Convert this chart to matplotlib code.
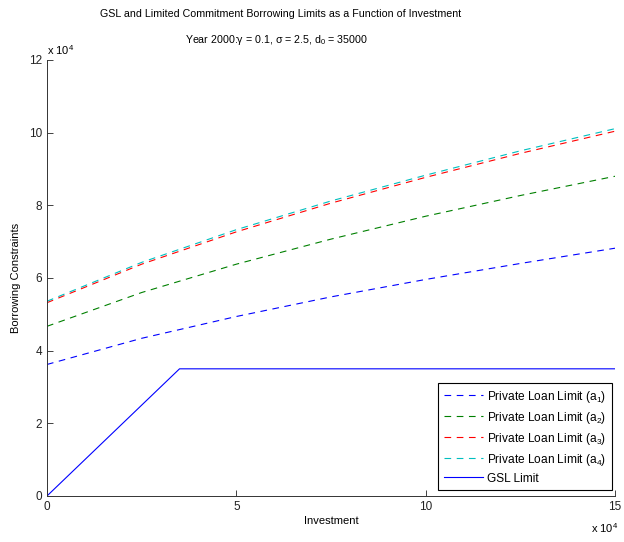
import numpy as np
import matplotlib
matplotlib.use("Agg")
import matplotlib.pyplot as plt
from matplotlib.ticker import FuncFormatter

plt.rcParams['font.family'] = ['Liberation Sans', 'DejaVu Sans']
plt.rcParams['mathtext.fontset'] = 'custom'
plt.rcParams['mathtext.rm'] = 'Liberation Sans'
plt.rcParams['mathtext.it'] = 'Liberation Sans'
plt.rcParams['mathtext.default'] = 'regular'

# investment grid (dollars)
invest = [0, 25000, 50000, 75000, 100000, 125000, 150000]
# private loan limits (dollars)
a1 = [36200, 43400, 49400, 54800, 59600, 64000, 68200]
a2 = [46700, 56000, 63800, 70700, 77000, 82700, 88000]
a3 = [53200, 63800, 72700, 80600, 87700, 94300, 100400]
a4 = [53600, 64300, 73300, 81200, 88300, 95000, 101100]
# GSL limit: kinks at d0
gsl_x = [0, 35000, 150000]
gsl_y = [0, 35000, 35000]

fig = plt.figure(figsize=(6.24, 5.42), dpi=100)
ax = fig.add_axes([0.0753, 0.0849, 0.9103, 0.8044])

dash = (6, 5)
ax.plot(invest, a1, color=(0, 0, 1), lw=0.8, dashes=dash, label='Private Loan Limit (a$_1$)')
ax.plot(invest, a2, color=(0, 0.5, 0), lw=0.8, dashes=dash, label='Private Loan Limit (a$_2$)')
ax.plot(invest, a3, color=(1, 0, 0), lw=0.8, dashes=dash, label='Private Loan Limit (a$_3$)')
ax.plot(invest, a4, color=(0, 0.75, 0.75), lw=0.8, dashes=dash, label='Private Loan Limit (a$_4$)')
ax.plot(gsl_x, gsl_y, '-', color=(0, 0, 1), lw=0.8, label='GSL Limit')

ax.set_xlim(0, 150000)
ax.set_ylim(0, 120000)
ax.set_xticks([0, 50000, 100000, 150000])
ax.set_yticks(np.arange(0, 120001, 20000))
ax.xaxis.set_major_formatter(FuncFormatter(lambda v, p: '%g' % (v / 1e4)))
ax.yaxis.set_major_formatter(FuncFormatter(lambda v, p: '%g' % (v / 1e4)))
ax.tick_params(direction='in', labelsize=8.5, length=4, width=0.6, colors='#222222')
for s in ['top', 'right']:
    ax.spines[s].set_visible(False)
for s in ['left', 'bottom']:
    ax.spines[s].set_linewidth(0.7)
    ax.spines[s].set_color('#333333')

ax.set_xlabel('Investment', fontsize=8, labelpad=2)
ax.set_ylabel('Borrowing Constraints', fontsize=8, labelpad=6)

fig.text(47 / 624, 1 - 50 / 542, 'x 10$^4$', fontsize=8, ha='left', va='center')
fig.text(618 / 624, 1 - 528 / 542, 'x 10$^4$', fontsize=8, ha='right', va='center')

fig.text(0.449, 0.974, 'GSL and Limited Commitment Borrowing Limits as a Function of Investment',
         fontsize=7.7, ha='center', va='center')
fig.text(0.443, 0.926, 'Year 2000:γ = 0.1, σ = 2.5, d$_0$ = 35000',
         fontsize=7.7, ha='center', va='center')

leg = ax.legend(loc='lower right', bbox_to_anchor=(0.9947, 0.0138), borderaxespad=0,
                fontsize=8.6, frameon=True, fancybox=False, framealpha=1,
                edgecolor='black', handlelength=3.3, labelspacing=0.42,
                handletextpad=0.35, borderpad=0.45)
leg.get_frame().set_linewidth(0.8)

fig.savefig('out.png', dpi=100)
